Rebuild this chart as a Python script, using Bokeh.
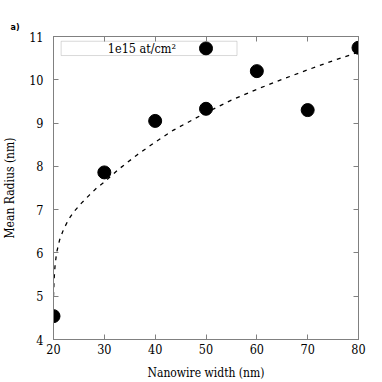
from bokeh.plotting import figure
from bokeh.models import Range1d, LinearAxis, BoxAnnotation, Label, FixedTicker, Title
from bokeh.embed import file_html
from bokeh.resources import INLINE

# Data points (nanowire width in nm, mean radius in nm)
widths = [20, 30, 40, 50, 60, 70, 80]
radii = [4.54, 7.86, 9.05, 9.33, 10.20, 9.30, 10.74]

# Fit curve
fit_x = [20.0, 20.1, 20.3, 20.6, 21.2, 22.0, 23.0, 24.0, 25.5, 27.0, 28.5, 30.0,
         33.0, 36.5, 40.0, 43.5, 46.5, 50.0, 55.0, 60.0, 65.0, 70.0, 75.0, 80.0]
fit_y = [5.0, 5.35, 5.7, 6.0, 6.3, 6.55, 6.78, 6.95, 7.15, 7.33, 7.5, 7.64,
         7.95, 8.27, 8.56, 8.83, 9.02, 9.24, 9.53, 9.78, 10.01, 10.23, 10.44, 10.64]

x_ticks = [20, 30, 40, 50, 60, 70, 80]
y_ticks = [4, 5, 6, 7, 8, 9, 10, 11]
legend_text = "1e15 at/cm\u00b2"

GRAY = "#808080"
SERIF = "DejaVu Serif Condensed"

p = figure(width=382, height=382, output_backend="svg", toolbar_location=None,
           x_range=Range1d(20, 80), y_range=Range1d(4, 11),
           min_border_left=53, min_border_right=24, min_border_top=36, min_border_bottom=42)
p.grid.visible = False
p.outline_line_color = GRAY
p.background_fill_color = "white"
p.border_fill_color = "white"

for ax, ticks in ((p.xaxis[0], x_ticks), (p.yaxis[0], y_ticks)):
    ax.ticker = FixedTicker(ticks=ticks)
    ax.axis_line_color = GRAY
    ax.major_tick_line_color = GRAY
    ax.major_tick_in = 5
    ax.major_tick_out = 0
    ax.minor_tick_line_color = None
    ax.major_label_text_color = "black"
    ax.major_label_text_font = SERIF
    ax.major_label_text_font_size = "12.5px"
    ax.axis_label_text_font = SERIF
    ax.axis_label_text_font_size = "12px"
    ax.axis_label_text_font_style = "normal"
    ax.axis_label_text_color = "black"

p.xaxis[0].axis_label = "Nanowire width (nm)"
p.xaxis[0].major_label_standoff = 4
p.xaxis[0].axis_label_standoff = 9
p.yaxis[0].axis_label = "Mean Radius (nm)"
p.yaxis[0].major_label_standoff = 10
p.yaxis[0].axis_label_standoff = 9

# Mirror ticks on top and right
for loc, ticks in (("above", x_ticks), ("right", y_ticks)):
    ax = LinearAxis(ticker=FixedTicker(ticks=ticks))
    ax.axis_line_color = GRAY
    ax.major_tick_line_color = GRAY
    ax.major_tick_in = 5
    ax.major_tick_out = 0
    ax.minor_tick_line_color = None
    ax.major_label_overrides = {t: "" for t in ticks}
    ax.major_label_standoff = 0
    p.add_layout(ax, loc)

# Panel label
p.add_layout(Title(text="a)", align="left", offset=-43, standoff=10,
                   text_font="DejaVu Sans", text_font_size="8px",
                   text_font_style="bold", text_color="black"), "above")

# Fit line
p.line(fit_x, fit_y, line_color="black", line_width=1.3, line_dash="4 5")

# Data points
p.scatter(widths, radii, size=13, color="black")

# Legend box (gnuplot style: text then sample)
p.add_layout(BoxAnnotation(left=21.5, right=56.1, top=10.89, bottom=10.56,
                           fill_alpha=0, line_color=GRAY, line_width=1))
p.add_layout(Label(x=37.4, y=10.725, text=legend_text, text_font=SERIF,
                   text_font_size="12.5px", text_align="center", text_baseline="middle",
                   text_color="black"))
p.scatter([50], [10.725], size=13, color="black")

open("out.html", "w").write(file_html(p, INLINE))
